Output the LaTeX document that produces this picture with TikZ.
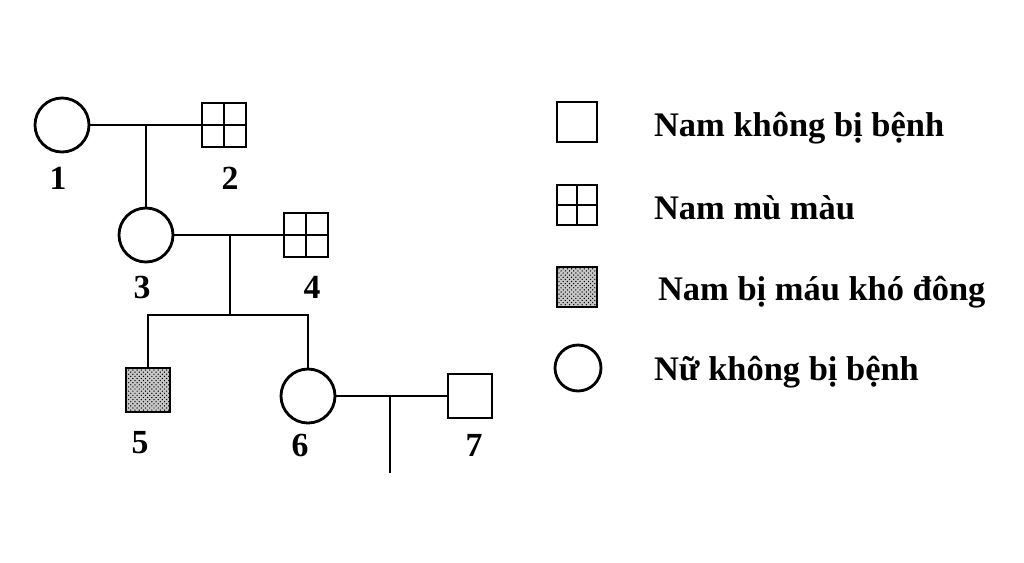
\documentclass[tikz,border=0pt]{standalone}
\usepackage{fontspec}
\setmainfont{Liberation Serif}
\usetikzlibrary{patterns}
\begin{document}
\begin{tikzpicture}[x=0.025cm,y=-0.025cm,line width=2pt,
  fem/.style={draw,circle,minimum size=54*0.025cm,inner sep=0},
  mal/.style={draw,rectangle,minimum size=44*0.025cm,inner sep=0},
  cb/.style={mal,path picture={\draw[line width=2pt] (path picture bounding box.north)--(path picture bounding box.south) (path picture bounding box.west)--(path picture bounding box.east);}},
  hb/.style={mal,fill=gray!45,postaction={pattern=crosshatch dots}},
  lbl/.style={font=\fontsize{24}{26}\selectfont\bfseries},
  leg/.style={font=\fontsize{24.5}{27}\selectfont\bfseries,anchor=west}]
\useasboundingbox (0,0) rectangle (1024,562);
\node[fem] (p1) at (62,125) {};
\node[cb] (p2) at (224,125) {};
\node[fem] (p3) at (146,235) {};
\node[cb] (p4) at (306,235) {};
\node[hb] (p5) at (148,390) {};
\node[fem] (p6) at (308,396) {};
\node[mal] (p7) at (470,396) {};
\node[lbl] at (58,178) {1};
\node[lbl] at (230,178) {2};
\node[lbl] at (142,287) {3};
\node[lbl] at (312,287) {4};
\node[lbl] at (140,443) {5};
\node[lbl] at (300,445) {6};
\node[lbl] at (474,445) {7};
\coordinate (m1) at (146,125);
\coordinate (m2) at (230,235);
\coordinate (m2b) at (230,315);
\coordinate (m3) at (390,396);
\coordinate (m3b) at (390,473);
\draw (p1) -- (p2);
\draw (m1) -- (p3.north);
\draw (p3) -- (p4);
\draw (m2) -- (m2b);
\draw (p5.north) |- (m2b) -| (p6.north);
\draw (p6) -- (p7);
\draw (m3) -- (m3b);
\node[mal,minimum size=40*0.025cm] (l1) at (577,122) {};
\node[cb,minimum size=40*0.025cm] (l2) at (577,205) {};
\node[hb,minimum size=40*0.025cm] (l3) at (577,287) {};
\node[fem,minimum size=46*0.025cm] (l4) at (578,368) {};
\node[leg] (t1) at (648,128) {Nam không bị bệnh};
\node[leg] (t2) at (648,208) {Nam mù màu};
\node[leg] (t3) at (652,292) {Nam bị máu khó đông};
\node[leg] (t4) at (648,372) {Nữ không bị bệnh};
\end{tikzpicture}
\end{document}
